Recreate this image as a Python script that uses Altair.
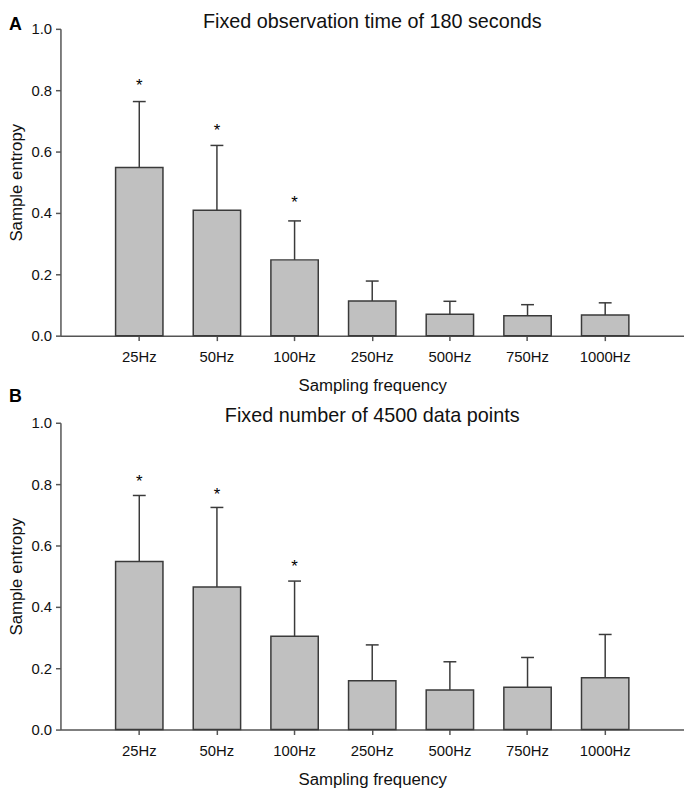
import altair as alt
import pandas as pd

# ---- data ----
freqs = ["25Hz", "50Hz", "100Hz", "250Hz", "500Hz", "750Hz", "1000Hz"]

mean_a = [0.548, 0.409, 0.247, 0.113, 0.070, 0.065, 0.067]
upper_a = [0.763, 0.620, 0.374, 0.178, 0.112, 0.101, 0.107]

mean_b = [0.548, 0.465, 0.304, 0.159, 0.129, 0.138, 0.169]
upper_b = [0.763, 0.724, 0.484, 0.276, 0.221, 0.235, 0.310]

star_freqs = ["25Hz", "50Hz", "100Hz"]
star_a = [0.826, 0.680, 0.445]
star_b = [0.819, 0.778, 0.541]

titles = ["Fixed observation time of 180 seconds", "Fixed number of 4500 data points"]
panel_letters = ["A", "B"]
y_ticks = [0.0, 0.2, 0.4, 0.6, 0.8, 1.0]

FONT = "Liberation Sans"
W, H = 630, 310
DARK = "#3a3a3a"
AXIS = "#555555"

X_ENC = alt.X(
    "freq:N",
    sort=freqs,
    scale=alt.Scale(paddingInner=0.39, paddingOuter=0.71),
    axis=alt.Axis(
        title="Sampling frequency",
        labelAngle=0,
        labelPadding=9,
        titlePadding=13,
    ),
)

Y_AXIS = alt.Axis(
    title="Sample entropy",
    values=y_ticks,
    format=".1f",
    grid=False,
    labelPadding=4,
    titlePadding=5,
)
Y_SCALE = alt.Scale(domain=[0, 1], nice=False, zero=True)


def panel(mean, upper, stars, title, letters):
    df = pd.DataFrame({"freq": freqs, "mean": mean, "upper": upper})
    sdf = pd.DataFrame({"freq": star_freqs, "star": stars, "t": ["*"] * len(stars)})
    tdf = pd.DataFrame({"title": [title]})

    bars = alt.Chart(df).mark_bar(
        fill="#c0c0c0", stroke=DARK, strokeWidth=1.5
    ).encode(x=X_ENC, y=alt.Y("mean:Q", scale=Y_SCALE, axis=Y_AXIS))

    err = alt.Chart(df).mark_rule(color=DARK, strokeWidth=1.5).encode(
        x=X_ENC, y=alt.Y("mean:Q", scale=Y_SCALE, axis=Y_AXIS), y2="upper:Q"
    )
    cap = alt.Chart(df).mark_tick(
        color=DARK, thickness=1.5, size=13, opacity=1
    ).encode(x=X_ENC, y=alt.Y("upper:Q", scale=Y_SCALE, axis=Y_AXIS))

    star = alt.Chart(sdf).mark_text(
        font=FONT, fontSize=17, color="#000000", baseline="alphabetic", dy=9
    ).encode(x=X_ENC, y=alt.Y("star:Q", scale=Y_SCALE, axis=Y_AXIS), text="t:N")

    ttl = alt.Chart(tdf).mark_text(
        font=FONT, fontSize=20, color="#111111", align="center", baseline="alphabetic"
    ).encode(x=alt.value(W / 2), y=alt.value(-1), text="title:N")

    layers = [bars, err, cap, star, ttl]
    for letter, ypix in letters:
        ldf = pd.DataFrame({"lab": [letter]})
        layers.append(
            alt.Chart(ldf).mark_text(
                font=FONT, fontSize=18, fontWeight="bold", color="#000000",
                align="left", baseline="alphabetic"
            ).encode(x=alt.value(-52), y=alt.value(ypix), text="lab:N")
        )

    return alt.layer(*layers).properties(width=W, height=H)


top = panel(mean_a, upper_a, star_a, titles[0],
            [(panel_letters[0], 1), (panel_letters[1], H + 67)])
bottom = panel(mean_b, upper_b, star_b, titles[1], [])

chart = alt.vconcat(top, bottom, spacing=0).properties(
    padding={"left": 0, "top": 0, "right": 0, "bottom": 0}
).configure_view(strokeWidth=0).configure_axis(
    domainColor=AXIS,
    domainWidth=1.5,
    tickColor=AXIS,
    tickWidth=1.5,
    tickSize=5,
    labelFont=FONT,
    labelFontSize=15,
    labelColor="#111111",
    titleFont=FONT,
    titleFontSize=17,
    titleFontWeight="normal",
    titleColor="#111111",
)

chart.save("out.html", embed_options={"renderer": "svg", "actions": False})
